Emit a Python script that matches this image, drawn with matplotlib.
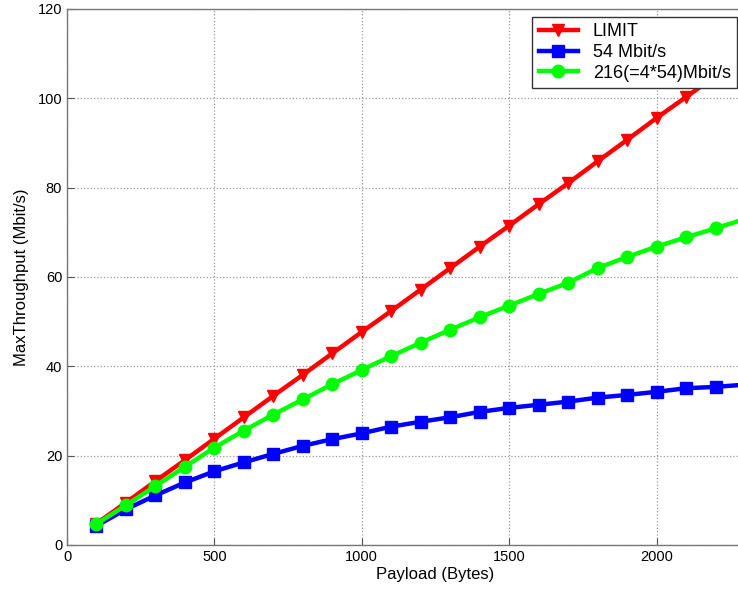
import matplotlib.pyplot as plt

# payload sizes (bytes)
payload = [100, 200, 300, 400, 500, 600, 700, 800, 900, 1000, 1100, 1200,
           1300, 1400, 1500, 1600, 1700, 1800, 1900, 2000, 2100, 2200, 2300]

# max throughput (Mbit/s)
limit = [4.8, 9.5, 14.3, 19.0, 23.8, 28.6, 33.4, 38.1, 42.9, 47.7, 52.4, 57.2,
         62.0, 66.8, 71.5, 76.3, 81.0, 85.9, 90.7, 95.6, 100.3, 105.0, 109.7]
rate54 = [4.3, 8.0, 11.1, 14.0, 16.5, 18.5, 20.4, 22.2, 23.7, 25.0, 26.5, 27.6,
          28.6, 29.8, 30.7, 31.4, 32.1, 33.0, 33.6, 34.3, 35.1, 35.4, 35.9]
rate216 = [4.7, 8.9, 13.2, 17.5, 21.8, 25.6, 29.2, 32.6, 36.0, 39.2, 42.3, 45.3,
           48.2, 51.0, 53.6, 56.2, 58.7, 62.0, 64.5, 66.8, 68.9, 70.9, 73.0]

plt.rcParams['font.family'] = ['Liberation Sans', 'DejaVu Sans']

fig = plt.figure(figsize=(7.38, 5.92), dpi=100)
# axes run past the right edge of the picture, like the cropped original
ax = fig.add_axes([67 / 738, 47 / 592, 737 / 738, 536 / 592])

ax.plot(payload, limit, color='#ff0000', lw=3.2, marker='v', ms=9, label='LIMIT')
ax.plot(payload, rate54, color='#0000ff', lw=3.2, marker='s', ms=8, label='54 Mbit/s')
ax.plot(payload, rate216, color='#00ff00', lw=3.2, marker='o', ms=9, label='216(=4*54)Mbit/s')

ax.set_xlim(0, 2500)
ax.set_ylim(0, 120)
ax.set_xticks([0, 500, 1000, 1500, 2000])
ax.set_yticks([0, 20, 40, 60, 80, 100, 120])
ax.grid(True, linestyle=':', color='#999999', lw=0.9)
ax.tick_params(direction='in', labelsize=10.5, length=5, color='#555555')
for s in ax.spines.values():
    s.set_color('#777777')
    s.set_linewidth(1.0)

ax.set_xlabel('Payload (Bytes)', fontsize=12, labelpad=2)
ax.set_ylabel('MaxThroughput (Mbit/s)', fontsize=12, labelpad=6)

leg = ax.legend(loc='upper right', bbox_to_anchor=(737 / 738, 1 - 17 / 592),
                bbox_transform=fig.transFigure, borderaxespad=0, fontsize=13,
                fancybox=False, framealpha=1, edgecolor='#333333',
                handlelength=2.2, labelspacing=0.2, borderpad=0.35)
leg.get_frame().set_linewidth(1.0)

plt.savefig('out.png', dpi=100)
